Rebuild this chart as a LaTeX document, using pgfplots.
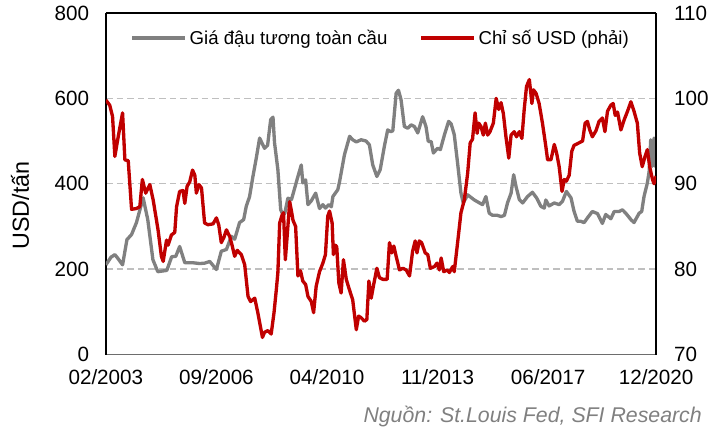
\documentclass[border=0pt]{standalone}
\usepackage{fontspec}
\setmainfont{Liberation Sans}
\usepackage{pgfplots}
\pgfplotsset{compat=1.18}
\definecolor{soy}{RGB}{128,128,128}
\definecolor{usd}{RGB}{192,0,0}
\definecolor{gridc}{RGB}{191,191,191}
\begin{document}
\begin{tikzpicture}
\pgfplotsset{
  every axis/.append style={
    width=413.25pt, height=256.5pt, scale only axis,
    xmin=0, xmax=214,
    major tick length=0pt,
    /pgf/number format/assume math mode=true,
    tick label style={font=\fontsize{15.5}{18}\selectfont},
  }
}
\begin{axis}[
  axis x line*=bottom, axis y line*=left,
  x axis line style={draw=soy!85!black, line width=1.1pt},
  y axis line style={draw=black, line width=1pt},
  ymin=0, ymax=800, ytick={0,200,400,600,800},
  xtick={0,43,86,129,172,214},
  xticklabels={02/2003,09/2006,04/2010,11/2013,06/2017,12/2020},
  xticklabel style={yshift=-7.5pt},
  yticklabel style={xshift=-9pt},
  ymajorgrids, grid style={draw=gridc, line width=1pt, dash pattern=on 5pt off 3pt},
  ylabel={USD/tấn},
  ylabel style={at={(axis description cs:-0.156,0.436)}, anchor=center, font=\fontsize{17.5}{20}\selectfont},
]
\coordinate (sw) at (rel axis cs:0,0);
\coordinate (ne) at (rel axis cs:1,1);
\coordinate (se) at (rel axis cs:1,0);
\addplot[soy, line width=2.5pt, line join=round] coordinates {
(0,210) (2,228) (3.5,234) (4.7,225) (6.5,210) (8.2,269) (10,281) (11.9,309) (14.5,367)
(16.3,316) (18.3,222) (20.2,194) (23.7,197) (25.6,229) (27.2,230) (28.7,253) (30.7,215)
(33.8,215) (36.5,213) (38.4,214) (40.4,218) (43,199) (44.9,242) (46.9,246) (48.8,277)
(50.1,270) (52,309) (53.6,316) (54.6,347) (55.9,370) (57.2,417) (58.5,460) (59.8,507)
(61.7,483) (62.9,490) (64.1,550) (65,556) (65.6,496) (66.9,433) (68,339) (68.9,327)
(69.6,331) (70.8,366) (72.2,363) (74.7,417) (76,444) (76.6,402) (77.7,409) (78.6,351)
(79.9,360) (81.6,378) (83.1,342) (84.4,351) (85.4,343) (86.7,351) (87.7,346) (88.3,370)
(90.2,386) (90.9,405) (92.8,468) (94.8,511) (96,503) (97.4,498) (99.3,503) (101.2,500)
(102.5,491) (103.8,444) (105.4,417) (106.7,433) (108.3,487) (109.6,526) (110.8,522)
(111.6,524) (112.9,612) (113.8,619) (114.8,597) (116.1,534) (117.4,530) (118.7,538)
(120,534) (121.3,519) (123.2,557) (124.5,534) (125.4,499) (126.5,499) (127.4,472)
(129,483) (130.1,480) (131.7,515) (133.3,546) (134.3,540) (135.5,515) (136.8,448)
(138.1,378) (139,355) (140.7,374) (143.3,362) (146.5,351) (147.8,370) (149.1,331)
(150.4,326) (152.3,326) (153.7,323) (155,326) (156.2,355) (157.6,378) (158.6,421)
(159.5,394) (160.8,363) (162.1,355) (164,370) (165.9,380) (167.5,367) (169.2,347)
(170.5,343) (171.1,362) (172.4,348) (174.4,355) (176.3,351) (177.6,359) (179.1,382)
(180.9,367) (182.1,335) (183.4,312) (184.7,312) (186,309) (187.3,320) (189.2,335)
(191.2,330) (193.1,307) (194.4,328) (196.4,318) (197.7,335) (199.6,335) (200.9,339)
(202.2,331) (204.2,316) (205.4,309) (207.4,331) (208.4,335) (209.3,370) (210.6,402)
(211.3,429) (211.9,503) (212.6,441) (213.2,507) (213.6,441) (214,507)
};
\end{axis}
\begin{axis}[
  axis x line*=top, axis y line*=right,
  x axis line style={draw=black, line width=1pt},
  y axis line style={draw=black, line width=1pt},
  xtick=\empty,
  ymin=70, ymax=110, ytick={70,80,90,100,110},
  yticklabel style={xshift=10pt},
  legend style={at={(0.5,0.927)}, anchor=center, draw=none, fill=none,
    legend columns=2, font=\fontsize{14}{16}\selectfont,
    /tikz/every even column/.append style={column sep=22pt}},
  legend image code/.code={\draw[#1] (0pt,0pt) -- (40pt,0pt);},
]
\addlegendimage{soy, line width=2.5pt}
\addlegendentry{Giá đậu tương toàn cầu}
\addplot[usd, line width=2.5pt, line join=round] coordinates {
(0,99.8) (1.5,99.2) (2.6,97.9) (3.5,93.2) (4.8,95.5) (6.5,98.3) (7.4,92.8) (8.7,92.7)
(10,87.0) (11.9,87.1) (13.2,87.3) (14.2,90.5) (15.5,88.9) (17.1,89.9) (18.4,88.1)
(20.3,84.6) (21.6,81.5) (22.3,80.9) (23.6,83.4) (24.2,82.8) (25.5,84.0) (26.8,84.3)
(27.5,87.3) (28.7,89.1) (30,89.2) (30.7,87.7) (31.6,89.7) (32.6,90.2) (33.7,91.6)
(34.6,91.0) (35.2,88.9) (36.2,89.9) (37.2,89.5) (38.4,85.4) (39.7,85.2) (41.7,85.3)
(43,86.0) (43.9,85.2) (44.9,83.1) (45.9,83.7) (46.9,84.6) (48.2,83.8) (49,82.9)
(50.1,81.5) (51.1,82.2) (52.7,81.7) (54,80.5) (55.3,76.8) (56.3,76.2) (57.9,76.6)
(59.1,74.9) (60.9,72.0) (61.7,72.6) (63,72.8) (64.3,72.4) (65.4,74.9) (66.3,77.6)
(66.9,79.6) (67.6,85.4) (68.5,86.3) (69.1,86.6) (69.8,81.1) (70.6,84.2) (71.5,87.9)
(72.3,86.6) (72.8,85.7) (73.8,85.0) (74.7,79.2) (75.7,79.8) (76.6,78.6) (77.7,78.2)
(78.6,76.8) (79.9,76.2) (80.8,74.9) (81.8,78.0) (83.1,79.7) (84.4,80.7) (85.4,81.7)
(86.3,86.2) (87,86.8) (88,85.4) (88.5,81.7) (89.3,82.8) (89.8,82.6) (90.6,78.4)
(91.5,77.2) (92.4,81.1) (93.5,78.8) (94.5,77.8) (96,76.4) (97.4,72.9) (98.3,74.5)
(99.3,74.3) (100.6,73.9) (101.5,74.1) (102.3,78.6) (103.2,76.6) (104.1,78.1)
(105.4,80.1) (106.4,79.0) (107.7,78.8) (109.4,78.8) (110.3,83.1) (111.2,81.9)
(112,82.7) (112.9,81.5) (114.2,79.9) (115.5,80.1) (116.8,79.9) (118.1,79.2)
(119.3,82.1) (120.3,83.3) (121,81.9) (121.9,83.3) (122.8,83.1) (124.2,81.9)
(125.2,81.7) (126.2,80.1) (127.8,80.3) (128.8,80.7) (129.7,79.9) (130.4,81.3)
(131.4,79.7) (132.7,79.9) (133.6,79.6) (134.9,80.3) (135.5,79.7) (136.8,83.1)
(138.1,86.6) (139.4,88.1) (140.7,91.2) (141.7,94.8) (142.6,95.2) (143.6,98.3)
(144.4,95.9) (145,97.1) (145.9,96.7) (146.8,95.7) (147.6,97.1) (148.5,95.7)
(149.4,96.1) (150.7,97.1) (151.8,100.0) (152.8,98.7) (153.7,99.5) (154.6,98.2)
(155.6,95.5) (156.7,93.0) (157.6,95.7) (158.8,96.1) (159.7,95.5) (160.8,96.1)
(161.8,95.3) (162.7,98.7) (163.6,101.4) (164.7,102.2) (165.7,99.4) (166.3,101.0)
(167.3,100.6) (168.5,99.4) (169.8,97.1) (171.1,94.4) (171.8,92.8) (173.1,92.8)
(174.4,94.6) (175.3,93.6) (176.3,92.0) (177.4,89.1) (178.3,90.5) (179.1,90.3)
(180.2,91.0) (181.2,93.8) (182.1,94.5) (182.8,94.6) (184.1,94.8) (185.4,95.0)
(186.4,97.1) (187.3,97.3) (188.2,96.3) (189.2,95.5) (190.6,96.2) (191.8,97.3)
(193.1,97.7) (194.1,96.1) (195.1,98.5) (196.4,99.2) (197.3,99.4) (198.1,98.0)
(199,98.4) (200.3,96.3) (201.6,97.5) (202.9,98.5) (204.2,99.6) (205.4,98.5)
(206.7,97.1) (207.6,93.6) (208.6,92.0) (209.7,93.2) (210.6,94.0) (211.5,92.0)
(212.6,90.5) (213.2,90.0) (214,90.9)
};
\addlegendentry{Chỉ số USD (phải)}
\end{axis}
\node[anchor=base east, text=soy, font=\fontsize{16}{18}\selectfont\itshape, inner sep=0pt]
  at ([shift={(34.5pt,-51pt)}]se) {Nguồn: St.Louis Fed, SFI Research};
\path ([shift={(-79.5pt,-57.75pt)}]sw) rectangle ([shift={(42pt,9.75pt)}]ne);
\end{tikzpicture}
\end{document}
